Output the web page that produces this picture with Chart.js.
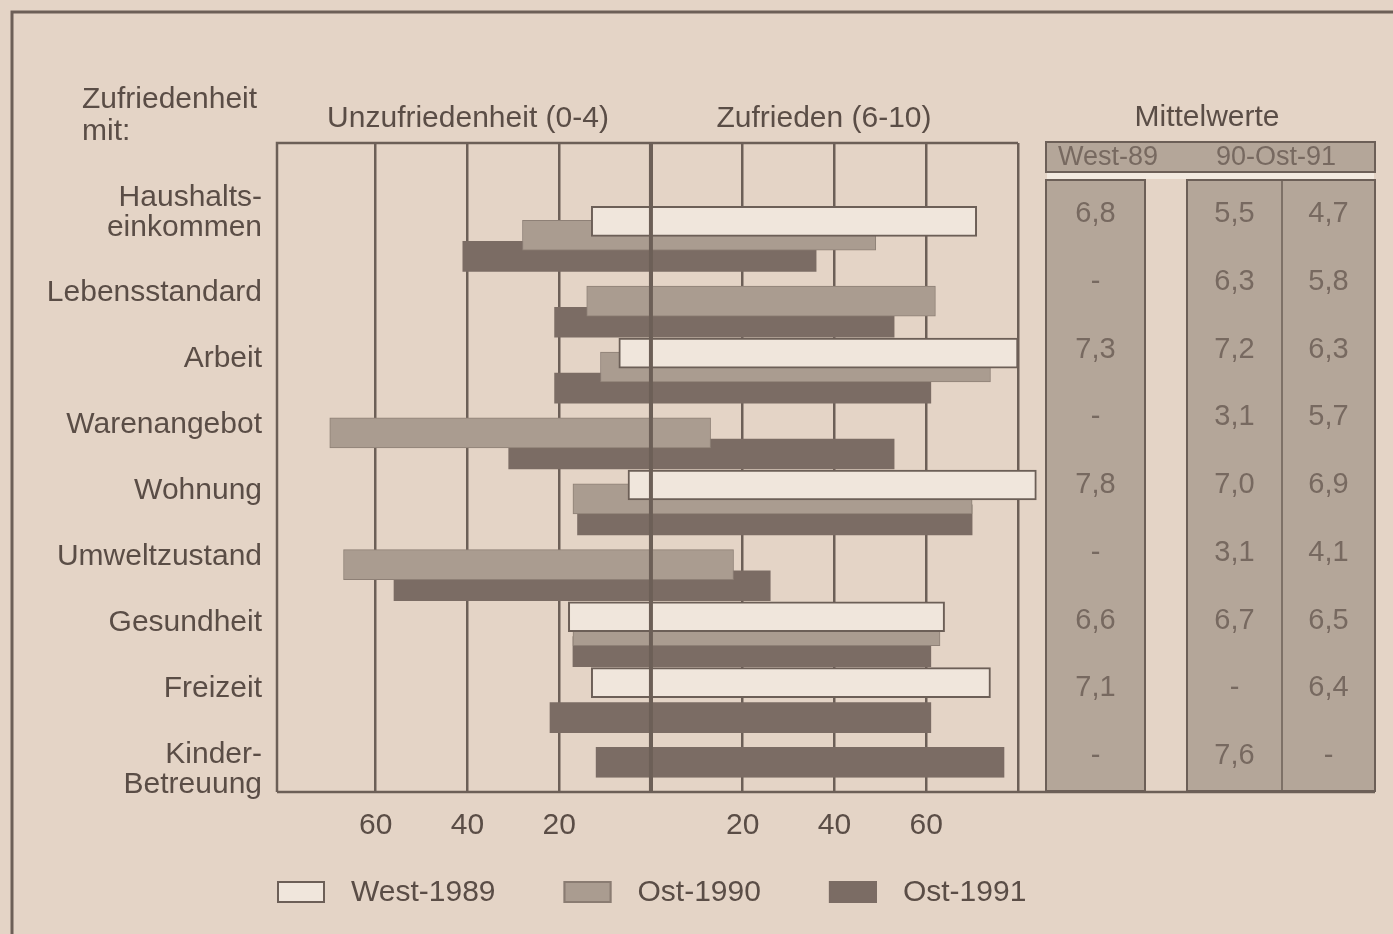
<!DOCTYPE html>
<html lang="de">
<head>
<meta charset="utf-8">
<title>Zufriedenheit West/Ost</title>
<script src="https://cdn.jsdelivr.net/npm/chart.js@4"></script>
<style>
  html, body { margin: 0; padding: 0; background: #e4d4c6; }
  canvas { display: block; }
</style>
</head>
<body>
<canvas id="chart" width="1393" height="934"></canvas>
<script>
// Lebensbereiche
const categories = [
  ['Haushalts-', 'einkommen'],
  'Lebensstandard',
  'Arbeit',
  'Warenangebot',
  'Wohnung',
  'Umweltzustand',
  'Gesundheit',
  'Freizeit',
  ['Kinder-', 'Betreuung'],
];

// Anteile in % (Skala 0-10: unzufrieden 0-4, zufrieden 6-10), null = nicht erhoben
const west1989Unzufrieden = [13, null, 7, null, 5, null, 18, 13, null];
const west1989Zufrieden = [71, null, 80, null, 84, null, 64, 74, null];
const ost1990Unzufrieden = [28, 14, 11, 70, 17, 67, 17, null, 12];
const ost1990Zufrieden = [49, 62, 74, 13, 70, 18, 63, null, 77];
const ost1991Unzufrieden = [41, 21, 21, 31, 16, 56, 17, 22, null];
const ost1991Zufrieden = [36, 53, 61, 53, 70, 26, 61, 61, null];

// Mittelwerte (Tabelle rechts)
const mittelWest89 = [6.8, null, 7.3, null, 7.8, null, 6.6, 7.1, null];
const mittelOst90 = [5.5, 6.3, 7.2, 3.1, 7.0, 3.1, 6.7, null, 7.6];
const mittelOst91 = [4.7, 5.8, 6.3, 5.7, 6.9, 4.1, 6.5, 6.4, null];

const achsenTicks = [-60, -40, -20, 0, 20, 40, 60, 80];

// Farben
const HINTERGRUND = '#e4d4c6';
const LINIE = '#6c5f57';
const TEXT = '#5a4d46';
const WEISS = '#f0e6dc';
const GRAU = '#aa9c90';
const DUNKEL = '#7b6c64';
const TAB_GRAU = '#b4a699';
const TAB_TEXT = '#776960';

const FONT = "'Liberation Sans', Arial, Helvetica, sans-serif";
Chart.defaults.font.family = FONT;

const Y_MIN = -1.4;
const Y_MAX = 8.45;

function balken(unzufrieden, zufrieden) {
  const punkte = [];
  categories.forEach((_, i) => {
    if (zufrieden[i] != null) {
      punkte.push({ y: i, x: [-unzufrieden[i], zufrieden[i]] });
    }
  });
  return punkte;
}

function komma(v) {
  return v == null ? '-' : v.toFixed(1).replace('.', ',');
}

const zeichnung = {
  id: 'zeichnung',
  beforeDraw(chart) {
    const ctx = chart.ctx;
    ctx.save();
    ctx.fillStyle = HINTERGRUND;
    ctx.fillRect(0, 0, chart.width, chart.height);
    ctx.restore();
  },
  afterDatasetsDraw(chart) {
    const { ctx, chartArea: a } = chart;
    const x = chart.scales.x;
    ctx.save();
    ctx.strokeStyle = LINIE;

    // Nulllinie liegt über den Balken
    const x0 = x.getPixelForValue(0);
    ctx.lineWidth = 4;
    ctx.beginPath();
    ctx.moveTo(x0, a.top);
    ctx.lineTo(x0, a.bottom);
    ctx.stroke();

    // Rahmen, Grundlinie läuft unter der Tabelle weiter
    ctx.lineWidth = 2.5;
    ctx.beginPath();
    ctx.moveTo(a.left, a.bottom);
    ctx.lineTo(a.left, a.top);
    ctx.lineTo(a.right, a.top);
    ctx.moveTo(a.left, a.bottom);
    ctx.lineTo(1375, a.bottom);
    ctx.stroke();
    ctx.restore();
  },
  afterDraw(chart) {
    const { ctx, chartArea: a } = chart;
    ctx.save();

    // äußerer Rahmen
    ctx.strokeStyle = LINIE;
    ctx.lineWidth = 3;
    ctx.beginPath();
    ctx.moveTo(12, chart.height);
    ctx.lineTo(12, 12);
    ctx.lineTo(chart.width, 12);
    ctx.stroke();

    // Überschriften
    ctx.fillStyle = TEXT;
    ctx.font = '30px ' + FONT;
    ctx.textBaseline = 'alphabetic';
    ctx.textAlign = 'left';
    ctx.fillText('Zufriedenheit', 82, 108);
    ctx.fillText('mit:', 82, 140);
    ctx.textAlign = 'center';
    ctx.fillText('Unzufriedenheit (0-4)', 468, 127);
    ctx.fillText('Zufrieden (6-10)', 824, 127);
    ctx.fillText('Mittelwerte', 1207, 126);

    // Tabelle Mittelwerte
    const links = 1046, rechts = 1375, westRechts = 1145, ostLinks = 1187, ostMitte = 1282;
    const kopfOben = a.top - 1, kopfUnten = a.top + 29, spalteOben = a.top + 37;
    const unten = a.bottom - 1;
    ctx.lineWidth = 2;
    ctx.strokeStyle = LINIE;

    ctx.fillStyle = TAB_GRAU;
    ctx.fillRect(links, kopfOben, rechts - links, kopfUnten - kopfOben);
    ctx.strokeRect(links, kopfOben, rechts - links, kopfUnten - kopfOben);
    ctx.fillStyle = '#f2e9df';
    ctx.fillRect(links + 1, kopfUnten + 1, rechts - links - 2, spalteOben - kopfUnten - 2);

    ctx.fillStyle = TAB_GRAU;
    ctx.fillRect(links, spalteOben, westRechts - links, unten - spalteOben);
    ctx.strokeRect(links, spalteOben, westRechts - links, unten - spalteOben);
    ctx.fillRect(ostLinks, spalteOben, rechts - ostLinks, unten - spalteOben);
    ctx.strokeRect(ostLinks, spalteOben, rechts - ostLinks, unten - spalteOben);
    ctx.lineWidth = 1.5;
    ctx.beginPath();
    ctx.moveTo(ostMitte, spalteOben);
    ctx.lineTo(ostMitte, unten);
    ctx.stroke();

    ctx.fillStyle = TAB_TEXT;
    ctx.textAlign = 'center';
    ctx.textBaseline = 'middle';
    ctx.font = '27px ' + FONT;
    ctx.fillText('West-89', 1108, (kopfOben + kopfUnten) / 2 + 1);
    ctx.fillText('90-Ost-91', 1276, (kopfOben + kopfUnten) / 2 + 1);

    const yTab = chart.scales.yTabelle;
    ctx.font = '29px ' + FONT;
    categories.forEach((_, i) => {
      const y = yTab.getPixelForValue(i);
      ctx.fillText(komma(mittelWest89[i]), (links + westRechts) / 2, y);
      ctx.fillText(komma(mittelOst90[i]), (ostLinks + ostMitte) / 2, y);
      ctx.fillText(komma(mittelOst91[i]), (ostMitte + rechts) / 2, y);
    });

    // Legende
    const farben = [
      { fill: WEISS, rand: LINIE },
      { fill: GRAU, rand: '#8a7c72' },
      { fill: DUNKEL, rand: DUNKEL },
    ];
    let lx = 277;
    const ly = 892;
    ctx.font = '30px ' + FONT;
    ctx.textAlign = 'left';
    chart.data.datasets.forEach((ds, k) => {
      ctx.fillStyle = farben[k].fill;
      ctx.fillRect(lx, ly - 11, 48, 22);
      ctx.strokeStyle = farben[k].rand;
      ctx.lineWidth = 2;
      ctx.strokeRect(lx + 1, ly - 10, 46, 20);
      ctx.fillStyle = TEXT;
      ctx.fillText(ds.label, lx + 74, ly + 1);
      lx += 74 + ctx.measureText(ds.label).width + 68;
    });

    ctx.restore();
  },
};

// grouped: false -> jeder Balken sitzt genau auf seiner eigenen (versetzten) Achse
const gemeinsam = { barThickness: 30, grouped: false, clip: false, borderSkipped: false };

new Chart(document.getElementById('chart'), {
  type: 'bar',
  data: {
    datasets: [
      {
        ...gemeinsam,
        label: 'West-1989',
        data: balken(west1989Unzufrieden, west1989Zufrieden),
        yAxisID: 'yWest',
        backgroundColor: WEISS,
        borderColor: LINIE,
        borderWidth: 2,
      },
      {
        ...gemeinsam,
        label: 'Ost-1990',
        data: balken(ost1990Unzufrieden, ost1990Zufrieden),
        yAxisID: 'y',
        // Kinder-Betreuung ist im Original dunkel gedruckt
        backgroundColor: (c) => (c.raw && c.raw.y === categories.length - 1 ? DUNKEL : GRAU),
        borderColor: (c) => (c.raw && c.raw.y === categories.length - 1 ? DUNKEL : '#8e8076'),
        borderWidth: 1,
      },
      {
        ...gemeinsam,
        label: 'Ost-1991',
        data: balken(ost1991Unzufrieden, ost1991Zufrieden),
        yAxisID: 'yOst91',
        backgroundColor: DUNKEL,
        borderWidth: 0,
      },
    ],
  },
  options: {
    responsive: false,
    animation: false,
    indexAxis: 'y',
    layout: { padding: { top: 143, right: 375, bottom: 62, left: 0 } },
    plugins: {
      legend: { display: false },
      tooltip: { enabled: false },
    },
    scales: {
      x: {
        type: 'linear',
        min: -81.5,
        max: 80,
        afterBuildTicks: (axis) => {
          axis.ticks = achsenTicks.map((v) => ({ value: v }));
        },
        afterFit: (axis) => {
          axis.height = 80;
        },
        grid: {
          color: LINIE,
          lineWidth: (c) => (c.tick && c.tick.value === 0 ? 4 : 2.5),
          drawTicks: false,
        },
        border: { display: false },
        ticks: {
          autoSkip: false,
          padding: 16,
          color: TEXT,
          font: { size: 30 },
          callback: (v) => (v === 0 || Math.abs(v) === 80 ? '' : String(Math.abs(v))),
        },
      },
      y: {
        type: 'linear',
        offset: false,
        reverse: true,
        min: Y_MIN,
        max: Y_MAX,
        afterBuildTicks: (axis) => {
          axis.ticks = categories.map((_, i) => ({ value: i }));
        },
        afterFit: (axis) => {
          axis.width = 277;
        },
        grid: { display: false, drawTicks: false },
        border: { display: false },
        ticks: {
          autoSkip: false,
          padding: 15,
          labelOffset: -8,
          color: TEXT,
          font: { size: 30, lineHeight: 1.0 },
          callback: (v) => {
            const text = categories[v];
            if (!Array.isArray(text)) return text;
            // zweizeilige Beschriftung: oben etwas höher, unten etwas tiefer gesetzt
            return v === 0 ? [...text, ''] : ['', ...text];
          },
        },
      },
      // versetzte Achsen, damit sich die drei Balken je Bereich überlappen
      yWest: { type: 'linear', offset: false, display: false, reverse: true, min: Y_MIN + 0.21, max: Y_MAX + 0.21 },
      yOst91: { type: 'linear', offset: false, display: false, reverse: true, min: Y_MIN - 0.32, max: Y_MAX - 0.32 },
      // gleichmäßige Zeilen der Mittelwert-Tabelle
      yTabelle: { type: 'linear', offset: false, display: false, reverse: true, min: -1.05, max: 8.53 },
    },
  },
  plugins: [zeichnung],
});
</script>
</body>
</html>
